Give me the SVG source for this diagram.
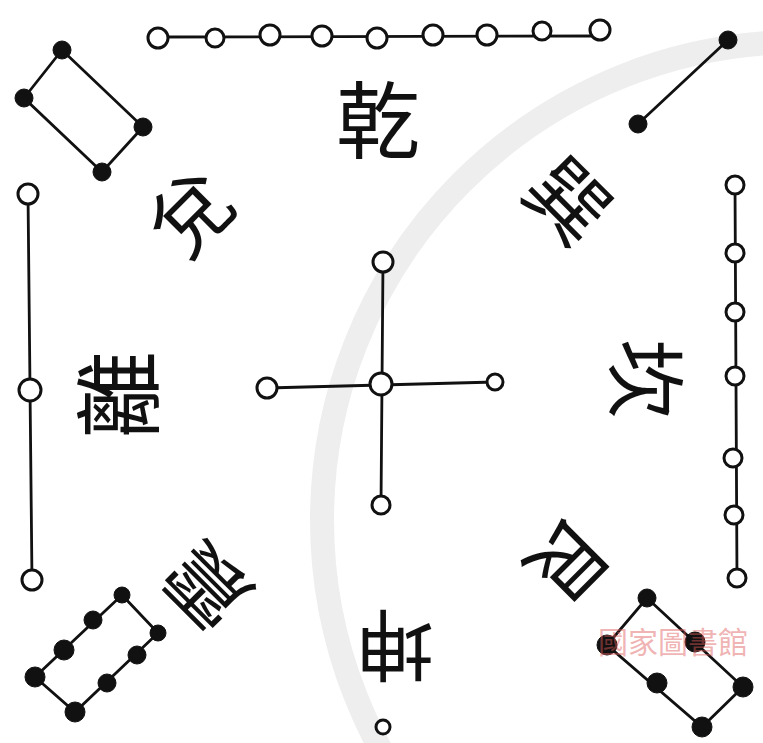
<svg xmlns="http://www.w3.org/2000/svg" width="763" height="743" viewBox="0 0 763 743">
<style>
.ln{stroke:#111;stroke-width:2.8;fill:none;stroke-linecap:round}
.o{fill:#fff;stroke:#111;stroke-width:3}
.b{fill:#111;stroke:#111;stroke-width:1}
.lab{font-family:"Noto Sans CJK TC","Noto Sans CJK SC",serif;fill:#111;text-anchor:middle;dominant-baseline:central}
.wm{font-family:"Noto Sans CJK TC","Noto Sans CJK SC",serif;fill:#e05a5a;opacity:0.45;font-size:30px}
.seal{fill:none;stroke:#eeeeee}
</style>
<rect width="763" height="743" fill="#fff"/>
<g id="seal">
<circle class="seal" cx="800" cy="520" r="478" stroke-width="24"/>
</g>
<g id="connectors">
<line class="ln" x1="158" y1="37" x2="600" y2="36"/>
<line class="ln" x1="728" y1="40" x2="638" y2="124"/>
<polygon class="ln" points="62,50 24,98 102,172 143,127"/>
<line class="ln" x1="28" y1="194" x2="32" y2="580"/>
<line class="ln" x1="735" y1="185" x2="737" y2="580"/>
<line class="ln" x1="383" y1="262" x2="381" y2="505"/>
<line class="ln" x1="267" y1="388" x2="495" y2="382"/>
<polygon class="ln" points="122,595 35,677 75,712 158,633"/>
<polygon class="ln" points="647,598 607,645 702,727 743,687"/>
</g>
<g id="node-top">
<circle class="o" cx="158" cy="38" r="10"/>
<circle class="o" cx="215" cy="38" r="9"/>
<circle class="o" cx="270" cy="35" r="10"/>
<circle class="o" cx="322" cy="36" r="10"/>
<circle class="o" cx="377" cy="38" r="10"/>
<circle class="o" cx="433" cy="35" r="10"/>
<circle class="o" cx="487" cy="35" r="10"/>
<circle class="o" cx="542" cy="31" r="9"/>
<circle class="o" cx="600" cy="30" r="10"/>
</g>
<g id="node-topright">
<circle class="b" cx="728" cy="40" r="9"/>
<circle class="b" cx="638" cy="124" r="9"/>
</g>
<g id="node-topleft">
<circle class="b" cx="62" cy="50" r="9"/>
<circle class="b" cx="24" cy="98" r="9"/>
<circle class="b" cx="143" cy="127" r="9"/>
<circle class="b" cx="102" cy="172" r="9"/>
</g>
<g id="node-left">
<circle class="o" cx="28" cy="194" r="10"/>
<circle class="o" cx="30" cy="390" r="11"/>
<circle class="o" cx="32" cy="580" r="10"/>
</g>
<g id="node-right">
<circle class="o" cx="735" cy="185" r="9"/>
<circle class="o" cx="735" cy="253" r="9"/>
<circle class="o" cx="735" cy="312" r="9"/>
<circle class="o" cx="735" cy="376" r="9"/>
<circle class="o" cx="733" cy="458" r="9"/>
<circle class="o" cx="734" cy="515" r="9"/>
<circle class="o" cx="737" cy="578" r="9"/>
</g>
<g id="node-center">
<circle class="o" cx="383" cy="262" r="10"/>
<circle class="o" cx="381" cy="384" r="11"/>
<circle class="o" cx="267" cy="388" r="10"/>
<circle class="o" cx="495" cy="382" r="8"/>
<circle class="o" cx="381" cy="505" r="9"/>
</g>
<g id="node-bottomleft">
<circle class="b" cx="122" cy="595" r="8"/>
<circle class="b" cx="93" cy="620" r="9"/>
<circle class="b" cx="64" cy="650" r="10"/>
<circle class="b" cx="35" cy="677" r="10"/>
<circle class="b" cx="75" cy="712" r="10"/>
<circle class="b" cx="107" cy="683" r="9"/>
<circle class="b" cx="137" cy="655" r="9"/>
<circle class="b" cx="158" cy="633" r="8"/>
</g>
<g id="node-bottomright">
<circle class="b" cx="647" cy="598" r="9"/>
<circle class="b" cx="607" cy="645" r="10"/>
<circle class="b" cx="695" cy="642" r="10"/>
<circle class="b" cx="657" cy="683" r="10"/>
<circle class="b" cx="743" cy="687" r="10"/>
<circle class="b" cx="702" cy="727" r="10"/>
</g>
<g id="node-bottom">
<circle class="o" cx="383" cy="727" r="7"/>
</g>
<g id="labels">
<text class="lab" font-size="84" transform="translate(378,115)">乾</text>
<text class="lab" font-size="80" transform="translate(187,210) rotate(-45)">兌</text>
<text class="lab" font-size="88" transform="translate(112,395) rotate(-90)">離</text>
<text class="lab" font-size="80" transform="translate(203,590) rotate(-135)">震</text>
<text class="lab" font-size="78" transform="translate(395,650) rotate(180)">坤</text>
<text class="lab" font-size="78" transform="translate(572,565) rotate(135)">艮</text>
<text class="lab" font-size="80" transform="translate(651,379) rotate(90)">坎</text>
<text class="lab" font-size="80" transform="translate(572,197) rotate(45)">巽</text>
</g>
<text class="wm" x="598" y="653">國家圖書館</text>
</svg>
